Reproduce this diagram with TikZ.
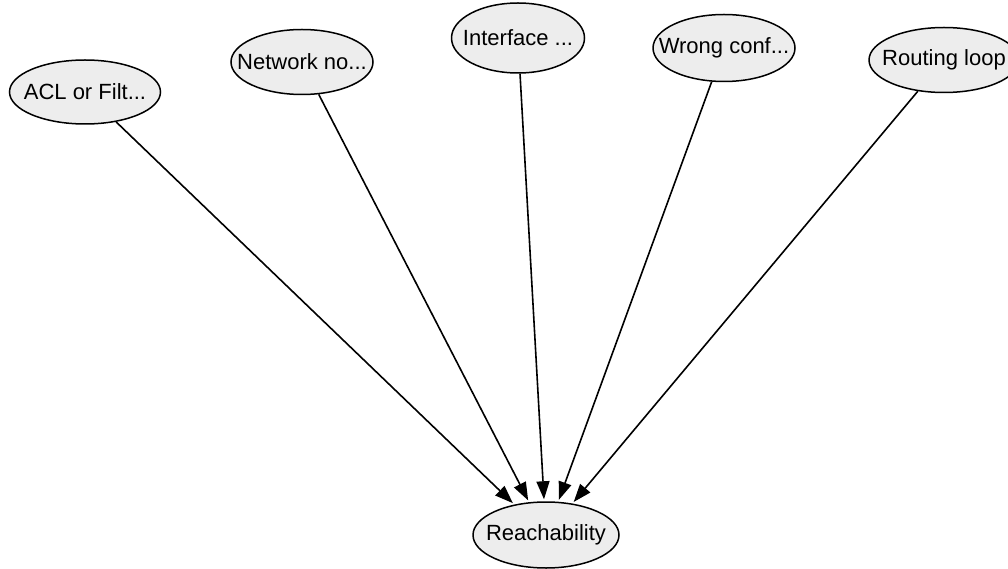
\documentclass[tikz,border=0pt]{standalone}
\usepackage{fontspec}
\setmainfont{Liberation Sans}
\usetikzlibrary{arrows.meta,shapes.geometric}
\begin{document}
\begin{tikzpicture}[x=1pt,y=-1pt,
  % fixed-size ellipse; the label is centred on it and may reach its rim
  cause/.style={ellipse,draw=black,line width=1.5pt,fill=black!7,inner sep=0pt,
    label={[font=\fontsize{22}{24}\selectfont,inner sep=0pt]center:#1}},
  link/.style={line width=1.6pt,shorten >=2pt,-{Triangle[length=18pt,width=13pt]}}]
\useasboundingbox (0,0) rectangle (1008,569);
\node[cause={ACL or Filt...},minimum width=151,minimum height=64] (acl) at (85,92) {};
\node[cause={Network no...},minimum width=142,minimum height=65] (net) at (302,62) {};
\node[cause={Interface ...},minimum width=133,minimum height=70] (ifc) at (518,38) {};
\node[cause={Wrong conf...},minimum width=142,minimum height=67] (cfg) at (724,48) {};
\node[cause={Routing loop},minimum width=150,minimum height=65] (rtl) at (944,60) {};
\node[cause={Reachability},minimum width=146,minimum height=66] (rch) at (546,535) {};
\foreach \s in {acl,net,ifc,cfg,rtl}
  \draw[link] (\s) -- (rch);
\end{tikzpicture}
\end{document}
